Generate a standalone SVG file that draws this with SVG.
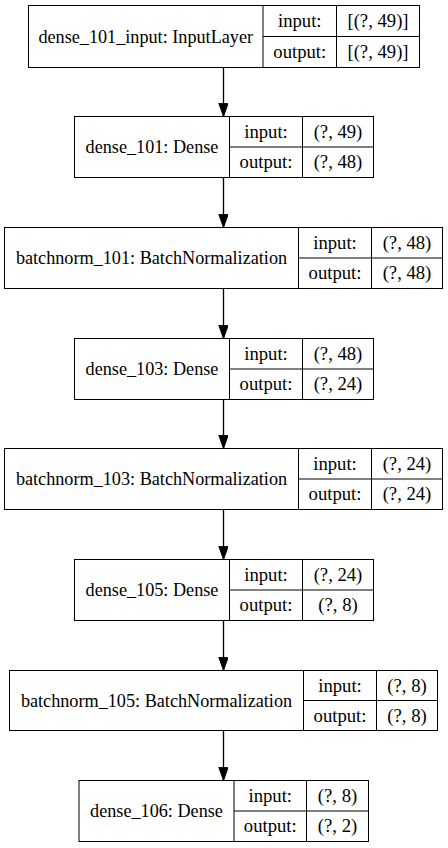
<svg xmlns="http://www.w3.org/2000/svg" width="448" height="848" viewBox="0 0 448 848" font-family="'Liberation Serif', 'Times New Roman', Times, serif">
<style>
.box{fill:#fff;stroke:#000;stroke-width:1}
.ln{stroke:#000;stroke-width:1;fill:none}
.t{font-family:'Liberation Serif','Times New Roman',Times,serif;font-size:18.67px;fill:#000;text-anchor:middle}
.m{font-size:18.2px}
.edge{stroke:#000;stroke-width:1.33;fill:none;marker-end:url(#ah)}
</style>
<defs>
<marker id="ah" markerUnits="userSpaceOnUse" markerWidth="14" markerHeight="10" refX="13.3" refY="4.7" orient="auto" viewBox="0 0 14 10">
<path d="M0,0 L13.3,4.7 L0,9.4 Z" fill="#000" stroke="#000" stroke-width="1"/>
</marker>
</defs>
<rect width="448" height="848" fill="#fff"/>
<g id="connectors">
<path class="edge" d="M223.5,67.5 V116.5"/>
<path class="edge" d="M223.5,177.5 V227.5"/>
<path class="edge" d="M223.5,288.5 V338.5"/>
<path class="edge" d="M223.5,399.5 V448.5"/>
<path class="edge" d="M223.5,509.5 V559.5"/>
<path class="edge" d="M223.5,620.5 V670.5"/>
<path class="edge" d="M223.5,730.5 V780.5"/>
</g>
<g id="dense_101_input">
<rect class="box" x="28.5" y="5.5" width="391" height="62"/>
<path class="ln" d="M263,5.5 V67.5 M336.5,5.5 V67.5 M263,36.5 H419.5"/>
<text class="t m" x="145.75" y="42.5">dense_101_input: InputLayer</text>
<text class="t" x="299.75" y="27">input:</text>
<text class="t" x="299.75" y="58">output:</text>
<text class="t" x="378" y="27">[(?, 49)]</text>
<text class="t" x="378" y="58">[(?, 49)]</text>
</g>
<g id="dense_101">
<rect class="box" x="74.5" y="116.5" width="299" height="61"/>
<path class="ln" d="M229.5,116.5 V177.5 M302.5,116.5 V177.5 M229.5,147 H373.5"/>
<text class="t m" x="152" y="153">dense_101: Dense</text>
<text class="t" x="266" y="137.75">input:</text>
<text class="t" x="266" y="168.25">output:</text>
<text class="t" x="338" y="137.75">(?, 49)</text>
<text class="t" x="338" y="168.25">(?, 48)</text>
</g>
<g id="batchnorm_101">
<rect class="box" x="4.5" y="227.5" width="438" height="61"/>
<path class="ln" d="M298.5,227.5 V288.5 M371.5,227.5 V288.5 M298.5,258 H442.5"/>
<text class="t m" x="151.5" y="264">batchnorm_101: BatchNormalization</text>
<text class="t" x="335" y="248.75">input:</text>
<text class="t" x="335" y="279.25">output:</text>
<text class="t" x="407" y="248.75">(?, 48)</text>
<text class="t" x="407" y="279.25">(?, 48)</text>
</g>
<g id="dense_103">
<rect class="box" x="74.5" y="338.5" width="299" height="61"/>
<path class="ln" d="M229.5,338.5 V399.5 M302.5,338.5 V399.5 M229.5,369 H373.5"/>
<text class="t m" x="152" y="375">dense_103: Dense</text>
<text class="t" x="266" y="359.75">input:</text>
<text class="t" x="266" y="390.25">output:</text>
<text class="t" x="338" y="359.75">(?, 48)</text>
<text class="t" x="338" y="390.25">(?, 24)</text>
</g>
<g id="batchnorm_103">
<rect class="box" x="4.5" y="448.5" width="438" height="61"/>
<path class="ln" d="M298.5,448.5 V509.5 M371.5,448.5 V509.5 M298.5,479 H442.5"/>
<text class="t m" x="151.5" y="485">batchnorm_103: BatchNormalization</text>
<text class="t" x="335" y="469.75">input:</text>
<text class="t" x="335" y="500.25">output:</text>
<text class="t" x="407" y="469.75">(?, 24)</text>
<text class="t" x="407" y="500.25">(?, 24)</text>
</g>
<g id="dense_105">
<rect class="box" x="74.5" y="559.5" width="299" height="61"/>
<path class="ln" d="M229.5,559.5 V620.5 M302.5,559.5 V620.5 M229.5,590 H373.5"/>
<text class="t m" x="152" y="596">dense_105: Dense</text>
<text class="t" x="266" y="580.75">input:</text>
<text class="t" x="266" y="611.25">output:</text>
<text class="t" x="338" y="580.75">(?, 24)</text>
<text class="t" x="338" y="611.25">(?, 8)</text>
</g>
<g id="batchnorm_105">
<rect class="box" x="9.5" y="670.5" width="428" height="60"/>
<path class="ln" d="M303.5,670.5 V730.5 M376.5,670.5 V730.5 M303.5,700.5 H437.5"/>
<text class="t m" x="156.5" y="706.5">batchnorm_105: BatchNormalization</text>
<text class="t" x="340" y="691.5">input:</text>
<text class="t" x="340" y="721.5">output:</text>
<text class="t" x="407" y="691.5">(?, 8)</text>
<text class="t" x="407" y="721.5">(?, 8)</text>
</g>
<g id="dense_106">
<rect class="box" x="79" y="780.5" width="289.5" height="61"/>
<path class="ln" d="M234,780.5 V841.5 M306.5,780.5 V841.5 M234,811 H368.5"/>
<text class="t m" x="156.5" y="817">dense_106: Dense</text>
<text class="t" x="270.25" y="801.75">input:</text>
<text class="t" x="270.25" y="832.25">output:</text>
<text class="t" x="337.5" y="801.75">(?, 8)</text>
<text class="t" x="337.5" y="832.25">(?, 2)</text>
</g>
</svg>
